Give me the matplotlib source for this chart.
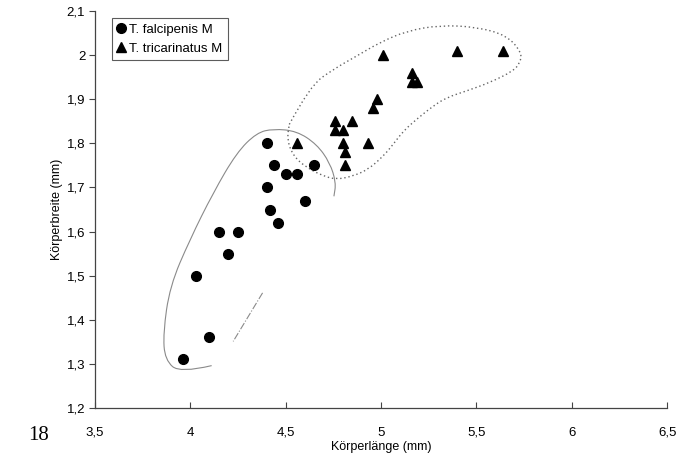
import matplotlib
matplotlib.use('Agg')
import matplotlib.pyplot as plt
from matplotlib.path import Path
from matplotlib.patches import PathPatch
import numpy as np

plt.rcParams['font.family'] = ['Liberation Sans', 'DejaVu Sans']

# T. falcipenis M (Körperlänge, Körperbreite)
falc_x = [3.96, 4.10, 4.03, 4.15, 4.25, 4.20, 4.40, 4.44, 4.50, 4.56, 4.65, 4.40, 4.60, 4.42, 4.46]
falc_y = [1.31, 1.36, 1.50, 1.60, 1.60, 1.55, 1.80, 1.75, 1.73, 1.73, 1.75, 1.70, 1.67, 1.65, 1.62]

# T. tricarinatus M
tric_x = [5.01, 5.40, 5.64, 5.16, 5.16, 5.19, 4.98, 4.96, 4.76, 4.85, 4.76, 4.80,
          4.56, 4.80, 4.93, 4.81, 4.81]
tric_y = [2.00, 2.01, 2.01, 1.96, 1.94, 1.94, 1.90, 1.88, 1.85, 1.85, 1.83, 1.83,
          1.80, 1.80, 1.80, 1.78, 1.75]

# handgezeichnete Umrisse (Kontrollpunkte, Datenkoordinaten)
falc_hull_x = [4.112, 3.946, 3.867, 3.858, 3.893, 3.998, 4.120, 4.243, 4.348, 4.435,
               4.558, 4.663, 4.732, 4.764, 4.753]
falc_hull_y = [1.296, 1.279, 1.309, 1.370, 1.476, 1.582, 1.688, 1.779, 1.824, 1.833,
               1.828, 1.798, 1.756, 1.711, 1.680]
falc_tail_x = [4.379, 4.225]
falc_tail_y = [1.461, 1.351]

tric_hull_x = [4.519, 4.627, 4.750, 4.872, 4.994, 5.135, 5.309, 5.502, 5.659, 5.738,
               5.729, 5.693, 5.571, 5.449, 5.344, 5.274, 5.187, 5.117, 5.064, 5.012,
               4.933, 4.854, 4.767, 4.697, 4.610, 4.540, 4.507, 4.519]
tric_hull_y = [1.843, 1.930, 1.968, 1.998, 2.029, 2.055, 2.068, 2.064, 2.045, 2.006,
               1.983, 1.964, 1.938, 1.919, 1.904, 1.885, 1.855, 1.828, 1.798, 1.771,
               1.741, 1.726, 1.718, 1.726, 1.745, 1.771, 1.809, 1.843]

x_ticks = [3.5, 4.0, 4.5, 5.0, 5.5, 6.0, 6.5]
x_labels = ['3,5', '4', '4,5', '5', '5,5', '6', '6,5']
y_ticks = [1.2, 1.3, 1.4, 1.5, 1.6, 1.7, 1.8, 1.9, 2.0, 2.1]
y_labels = ['1,2', '1,3', '1,4', '1,5', '1,6', '1,7', '1,8', '1,9', '2', '2,1']


def smooth_path(xs, ys):
    # quadratische Bezier-Kurve durch die Mittelpunkte der Kontrollpunkte
    pts = list(zip(xs, ys))
    verts = [pts[0]]
    codes = [Path.MOVETO]
    for i in range(1, len(pts) - 1):
        mid = ((pts[i][0] + pts[i + 1][0]) / 2, (pts[i][1] + pts[i + 1][1]) / 2)
        verts += [pts[i], mid]
        codes += [Path.CURVE3, Path.CURVE3]
    verts.append(pts[-1])
    codes.append(Path.LINETO)
    return Path(verts, codes)


fig = plt.figure(figsize=(6.78, 4.62), dpi=100)
ax = fig.add_axes([0.140, 0.117, 0.844, 0.859])

# Umrisse
ax.add_patch(PathPatch(smooth_path(falc_hull_x, falc_hull_y), fill=False,
                       edgecolor='#8a8a8a', lw=0.8))
ax.plot(falc_tail_x, falc_tail_y, color='#8a8a8a', lw=0.8, ls='-.')
ax.add_patch(PathPatch(smooth_path(tric_hull_x, tric_hull_y), fill=False,
                       edgecolor='#666666', lw=1.0, ls=(0, (1, 2))))

ax.plot(falc_x, falc_y, 'o', color='black', ms=7, ls='none', label='T. falcipenis M')
ax.plot(tric_x, tric_y, '^', color='black', ms=7, ls='none', label='T. tricarinatus M')

ax.set_xlim(3.5, 6.5)
ax.set_ylim(1.2, 2.1)
ax.set_xticks(x_ticks)
ax.set_xticklabels(x_labels)
ax.set_yticks(y_ticks)
ax.set_yticklabels(y_labels)

for s in ['top', 'right']:
    ax.spines[s].set_visible(False)
for s in ['left', 'bottom']:
    ax.spines[s].set_color('#444444')
    ax.spines[s].set_linewidth(0.9)

ax.tick_params(axis='x', direction='in', length=4, width=0.8, color='#444444',
               labelsize=9.5, pad=13.5)
ax.tick_params(axis='y', direction='out', length=4, width=0.8, color='#444444',
               labelsize=9.5, pad=3)

ax.set_xlabel('Körperlänge (mm)', fontsize=9, labelpad=2)
ax.set_ylabel('Körperbreite (mm)', fontsize=9, labelpad=3)

leg = ax.legend(loc='upper left', bbox_to_anchor=(0.03, 0.982), fontsize=9.5,
                frameon=True, fancybox=False, handlelength=0.6, handletextpad=0.3,
                borderpad=0.4, labelspacing=0.5, borderaxespad=0)
leg.get_frame().set_edgecolor('#333333')
leg.get_frame().set_linewidth(0.8)

fig.text(0.041, 0.048, '18', family=['Liberation Serif', 'DejaVu Serif'], fontsize=15)

fig.savefig('out.png', dpi=100)
